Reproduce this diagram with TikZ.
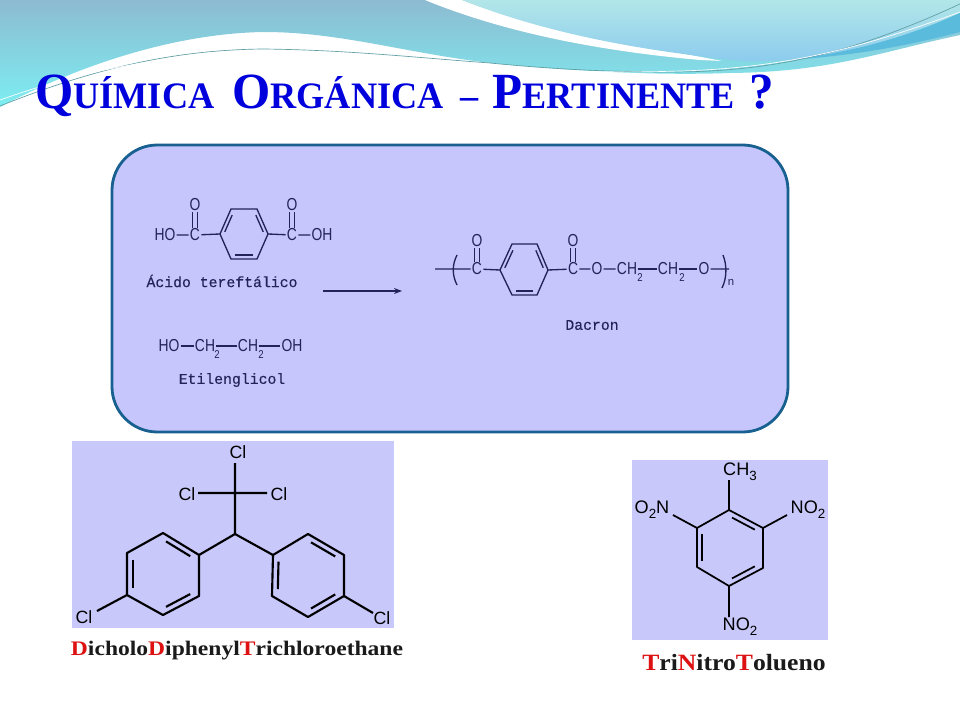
\documentclass[tikz,border=0pt]{standalone}
\usepackage{fontspec}
\usepackage{graphicx}
\setmainfont{Liberation Serif}
\newfontfamily\chemsans{Liberation Sans}
\newfontfamily\chemmono[FakeBold=.35]{Liberation Mono}
\usetikzlibrary{calc,arrows.meta}
\definecolor{ink}{HTML}{23235A}
\definecolor{panelfill}{HTML}{C6C6FD}
\definecolor{panelline}{HTML}{17608F}
\definecolor{imgfill}{HTML}{C8C8FA}
\definecolor{titleblue}{HTML}{0000DC}
\definecolor{capred}{HTML}{DD1111}
\definecolor{capblack}{HTML}{1A1A1A}
\definecolor{hdA}{HTML}{8DBBD1}
\definecolor{hdM}{HTML}{7CD8E4}
\definecolor{hdB}{HTML}{7CEEF2}
\definecolor{hdC}{HTML}{B2E6E8}
\definecolor{hdD}{HTML}{8CCBEE}
\definecolor{hdE}{HTML}{5BBBDD}
\definecolor{hdF}{HTML}{5F9FA5}
\newcommand\ttl[2]{{\fontsize{38}{38}\selectfont #1}{\fontsize{28}{28}\selectfont #2}}
\newcommand\rd[1]{\textcolor{capred}{#1}}
\newcommand\sbs[1]{\raisebox{-.28em}{\fontsize{10}{10}\selectfont #1}}
\newcommand\ratom[3]{\node[ratomst] (#1) at (#2) {\scalebox{.8}[1]{#3}};}
\newcommand\rsub[2]{\node[rsubst] at (#1) {\scalebox{.85}[1]{#2}};}
\newcommand\dbl[4][rbond]{\draw[#1] ($($(#2)!.1!(#3)$)!.16!(#4)$) -- ($($(#3)!.1!(#2)$)!.16!(#4)$);}
\tikzset{
 ratomst/.style={font=\chemsans\fontsize{13}{13}\selectfont,text=ink,inner sep=0pt,outer sep=1pt},
 rsubst/.style={font=\chemsans\fontsize{8.5}{8.5}\selectfont,text=ink,inner sep=0pt},
 monolabel/.style={font=\chemmono\fontsize{11.1}{11.1}\selectfont,text=ink,inner sep=0pt},
 rbond/.style={draw=ink,line width=1pt},
 blk/.style={draw=black,line width=1.6pt},
 tbond/.style={draw=black,line width=1.3pt},
 blatom/.style={font=\chemsans\fontsize{13.3}{13.3}\selectfont,text=black,inner sep=0pt},
 tnatom/.style={font=\chemsans\fontsize{13.6}{13.6}\selectfont,text=black,inner sep=0pt},
 thinwave/.style={line width=.5pt},
}
\begin{document}
\begin{tikzpicture}[x=.75pt,y=-.75pt]
\useasboundingbox (0,0) rectangle (960,720);
\fill[white] (0,0) rectangle (960,720);
% header
\shade[top color=hdA,middle color=hdM,bottom color=hdB] (0,0) -- (960,0) -- (960,35)
  .. controls (880,52) and (830,72) .. (730,73)
  .. controls (650,76) and (560,70) .. (490,63)
  .. controls (400,52) and (340,32) .. (263,32)
  .. controls (160,34) and (60,75) .. (0,107) -- cycle;
\fill[white] (425,0) .. controls (510,35) and (610,52) .. (700,60) -- (722,61) .. controls (640,45) and (540,30) .. (462,0) -- cycle;
\shade[top color=hdC,bottom color=hdD] (462,0) -- (960,0) -- (960,13)
  .. controls (880,50) and (810,62) .. (745,61)
  .. controls (650,52) and (550,35) .. (462,0) -- cycle;
\fill[hdE] (960,13) .. controls (900,40) and (850,52) .. (790,60) .. controls (860,55) and (910,45) .. (960,32) -- cycle;
\draw[thinwave,draw=hdF] (0,106) .. controls (90,70) and (170,50) .. (263,49)
  .. controls (350,50) and (420,58) .. (490,63) .. controls (560,70) and (620,72) .. (670,72) .. controls (780,72) and (860,50) .. (960,4);
\draw[thinwave,draw=white] (0,100) .. controls (90,68) and (170,54) .. (263,54)
  .. controls (350,54) and (420,60) .. (490,65) .. controls (560,72) and (620,73) .. (680,71) .. controls (790,68) and (870,45) .. (960,12);
% title
\node[anchor=west,inner sep=0pt,text=titleblue,font=\bfseries] (title) at (35,96) {\scalebox{.97}[1]{\ttl{Q}{UÍMICA}\hspace{14pt}\ttl{O}{RGÁNICA}\hspace{13pt}\ttl{}{–}\hspace{11pt}\ttl{P}{ERTINENTE}\hspace{11pt}\ttl{?}{}}};
% panel
\draw[fill=panelfill,draw=panelline,line width=2.1pt,rounded corners=34pt] (112,145) rectangle (788,432);
% acid
\ratom{ho}{165,235}{HO}\ratom{c1}{195,235}{C}\ratom{o1}{195,205}{O}\ratom{c2}{292,235}{C}\ratom{o2}{292,205}{O}\ratom{oh}{322,235}{OH}
\coordinate (a1) at (220,234);\coordinate (a2) at (231,209);\coordinate (a3) at (257,209);\coordinate (a4) at (268,234);\coordinate (a5) at (257,259);\coordinate (a6) at (231,259);\coordinate (ac) at (244,234);
\draw[rbond] (a1)--(a2)--(a3)--(a4)--(a5)--(a6)--cycle;
\dbl{a1}{a2}{ac}\dbl{a3}{a4}{ac}\dbl{a5}{a6}{ac}
\draw[rbond] (ho)--(c1) (c1)--(a1) (a4)--(c2) (c2)--(oh);
\foreach \s in {-1.7pt,1.7pt}{\draw[rbond] ([xshift=\s]o1.south)--([xshift=\s]c1.north);\draw[rbond] ([xshift=\s]o2.south)--([xshift=\s]c2.north);}
\node[monolabel] (acido) at (222,281) {Ácido tereftálico};
% arrow
\coordinate (arrL) at (323,291);\coordinate (arrR) at (402,291);
\draw[rbond,-{Stealth[length=6pt,width=4.5pt]}] (arrL)--(arrR);
% glycol
\ratom{gho}{169,346}{HO}\ratom{gc1}{205,346}{CH}\rsub{217,355}{2}\ratom{gc2}{248,346}{CH}\rsub{261,355}{2}\ratom{goh}{292,346}{OH}
\draw[rbond] (gho)--(gc1);\draw[rbond] (gc1.east)--(gc2.west);\draw[rbond] (gc2.east)--(goh);
\node[monolabel] (etil) at (232,380) {Etilenglicol};
% dacron
\coordinate (dl) at (435,269);
\ratom{dc1}{477,269}{C}\ratom{do1}{477,241}{O}\ratom{dc2}{573,269}{C}\ratom{do2}{573,241}{O}\ratom{do3}{597,269}{O}
\ratom{dch1}{627,269}{CH}\rsub{640,278}{2}\ratom{dch2}{668,269}{CH}\rsub{682,278}{2}\ratom{do4}{704,269}{O}
\coordinate (dr) at (729,269);
\coordinate (b1) at (500,270);\coordinate (b2) at (512,244);\coordinate (b3) at (537,244);\coordinate (b4) at (548,270);\coordinate (b5) at (537,295);\coordinate (b6) at (512,295);\coordinate (bc) at (524,270);
\draw[rbond] (b1)--(b2)--(b3)--(b4)--(b5)--(b6)--cycle;
\dbl{b1}{b2}{bc}\dbl{b3}{b4}{bc}\dbl{b5}{b6}{bc}
\draw[rbond] (dl)--(dc1) (dc1)--(b1) (b4)--(dc2) (dc2)--(do3) (do3)--(dch1) (do4)--(dr);
\draw[rbond] (dch1.east)--(dch2.west);\draw[rbond] (dch2.east)--(do4);
\foreach \s in {-1.7pt,1.7pt}{\draw[rbond] ([xshift=\s]do1.south)--([xshift=\s]dc1.north);\draw[rbond] ([xshift=\s]do2.south)--([xshift=\s]dc2.north);}
\coordinate (pla) at (457,255);\coordinate (plb) at (457,285);\coordinate (pra) at (723,255);\coordinate (prb) at (722,288);
\draw[rbond] (pla) .. controls (452,265) and (452,275) .. (plb);
\draw[rbond] (pra) .. controls (727,265) and (727,278) .. (prb);
\node[rsubst] (dn) at (731,282) {n};
\node[monolabel] (dacron) at (592,325) {Dacron};
% DDT
\fill[imgfill] (72,441) rectangle (394,628);
\node[blatom] (cl1) at (238,452) {Cl};\node[blatom] (cl2) at (187,494) {Cl};\node[blatom] (cl3) at (279,494) {Cl};\node[blatom] (cl4) at (84,617) {Cl};\node[blatom] (cl5) at (382,618) {Cl};
\coordinate (cm) at (235,534);
\coordinate (cl1e) at (235,463);\coordinate (cl2e) at (198,493);\coordinate (cl3e) at (267,493);\coordinate (cl4e) at (97,611);\coordinate (cl5e) at (373,613);
\coordinate (l1) at (199,555);\coordinate (l2) at (163,533);\coordinate (l3) at (127,553);\coordinate (l4) at (127,595);\coordinate (l5) at (163,615);\coordinate (l6) at (199,596);\coordinate (lc) at (163,574);
\coordinate (r1) at (273,555);\coordinate (r2) at (308,534);\coordinate (r3) at (344,555);\coordinate (r4) at (344,596);\coordinate (r5) at (308,617);\coordinate (r6) at (272,596);\coordinate (rc) at (308,575);
\draw[blk,line join=round] (cl1e)--(cm)--(l1) (cm)--(r1) (cl2e)--(cl3e) (l4)--(cl4e) (r4)--(cl5e);
\draw[blk,line join=round] (l1)--(l2)--(l3)--(l4)--(l5)--(l6)--cycle;
\draw[blk,line join=round] (r1)--(r2)--(r3)--(r4)--(r5)--(r6)--cycle;
\dbl[blk]{l1}{l2}{lc}\dbl[blk]{l3}{l4}{lc}\dbl[blk]{l5}{l6}{lc}
\dbl[blk]{r2}{r3}{rc}\dbl[blk]{r4}{r5}{rc}\dbl[blk]{r6}{r1}{rc}
\node[font=\bfseries\fontsize{15.5}{15.5}\selectfont,text=capblack,inner sep=0pt] (ddtcap) at (237,651) {\scalebox{1.14}[1]{\rd{D}icholo\rd{D}iphenyl\rd{T}richloroethane}};
% TNT
\fill[imgfill] (632,460) rectangle (828,640);
\node[tnatom] (ch3) at (740,472) {CH\sbs{3}};
\node[tnatom] (no2r) at (808,510) {NO\sbs{2}};
\node[tnatom] (o2n) at (652,510) {O\sbs{2}N};
\node[tnatom] (no2b) at (740,627) {NO\sbs{2}};
\coordinate (ch3e) at (729,480);\coordinate (rne) at (787,515);\coordinate (lne) at (673,515);\coordinate (bne) at (729,617);
\coordinate (t1) at (729,510);\coordinate (t2) at (763,528);\coordinate (t3) at (763,568);\coordinate (t4) at (729,586);\coordinate (t5) at (697,567);\coordinate (t6) at (697,528);\coordinate (tc) at (730,548);
\draw[tbond,line join=round] (t1)--(t2)--(t3)--(t4)--(t5)--(t6)--cycle;
\draw[tbond] (ch3e)--(t1) (t2)--(rne) (t6)--(lne) (t4)--(bne);
\dbl[tbond]{t1}{t2}{tc}\dbl[tbond]{t3}{t4}{tc}\dbl[tbond]{t5}{t6}{tc}
\node[font=\bfseries\fontsize{17.5}{17.5}\selectfont,text=capblack,inner sep=0pt] (tntcap) at (734,663) {\scalebox{1.1}[1]{\rd{T}ri\rd{N}itro\rd{T}olueno}};
\end{tikzpicture}
\end{document}
